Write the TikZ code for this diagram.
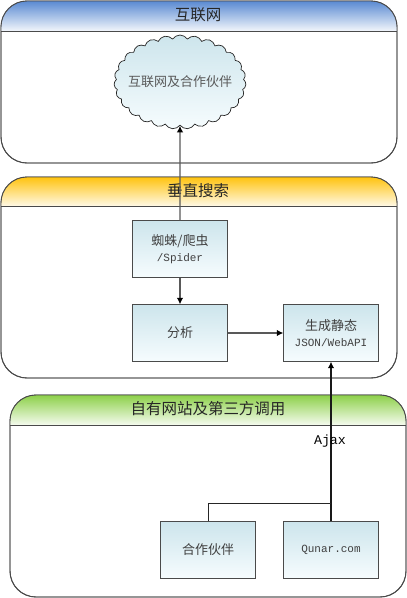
\documentclass[tikz,border=0pt]{standalone}
\usepackage{fontspec}
\setmainfont{Noto Sans CJK SC}
\newfontfamily\lat{Liberation Mono}
\usetikzlibrary{shapes.symbols,arrows.meta}
\definecolor{boxtop}{HTML}{CDE5EC}
\definecolor{boxbot}{HTML}{F6FCFE}
\definecolor{edge}{HTML}{4A4A4A}
\definecolor{HBlue}{HTML}{5A8AD2}
\definecolor{HBlueB}{HTML}{F2F6FB}
\definecolor{HYel}{HTML}{FFC30F}
\definecolor{HYelB}{HTML}{FFF9E6}
\definecolor{HGrn}{HTML}{8DD04A}
\definecolor{HGrnB}{HTML}{F5FBEF}
\tikzset{
  panel/.style={draw=edge,line width=0.9pt,fill=white,rounded corners=26pt},
  headrule/.style={draw=edge,line width=1pt},
  title/.style={font=\fontsize{15.5}{17}\selectfont,text=black!85,inner sep=0pt},
  card/.style={draw=edge,line width=1pt,minimum width=94.3pt,minimum height=56.3pt,inner sep=0pt,
    top color=boxtop,bottom color=boxbot,align=center,text=black!75,
    font=\fontsize{13}{16.5}\selectfont},
  puffy/.style={cloud,cloud puffs=27,cloud puff arc=115,aspect=1.4,draw=black!85,line width=0.7pt,
    minimum width=132pt,minimum height=94pt,inner sep=0pt,top color=boxtop,bottom color=boxbot,
    text=black!65,font=\fontsize{13}{15}\selectfont},
  link/.style={draw=black!65,line width=1.3pt,-{Latex[length=6.5pt,width=6.5pt,color=black]}},
  darklink/.style={draw=black!85,line width=1pt},
}
\begin{document}
\begin{tikzpicture}[x=1pt,y=-1pt]
\useasboundingbox (0,0) rectangle (407,598);
% panels
\path[panel] (1,1) rectangle (397,163);
\begin{scope}
\clip[rounded corners=26pt] (1,1) rectangle (397,163);
\shade[top color=HBlue,bottom color=HBlueB] (1,1) rectangle (397,31);
\end{scope}
\path[panel,fill=none] (1,1) rectangle (397,163);
\draw[headrule] (1,31) -- (397,31);
\node[title] (t1) at (198,15) {互联网};

\path[panel] (1,177) rectangle (397,378);
\begin{scope}
\clip[rounded corners=26pt] (1,177) rectangle (397,378);
\shade[top color=HYel,bottom color=HYelB] (1,177) rectangle (397,206);
\end{scope}
\path[panel,fill=none] (1,177) rectangle (397,378);
\draw[headrule] (1,206) -- (397,206);
\node[title] (t2) at (198,191) {垂直搜索};

\path[panel] (10,395) rectangle (406,597);
\begin{scope}
\clip[rounded corners=26pt] (10,395) rectangle (406,597);
\shade[top color=HGrn,bottom color=HGrnB] (10,395) rectangle (406,425);
\end{scope}
\path[panel,fill=none] (10,395) rectangle (406,597);
\draw[headrule] (10,425) -- (406,425);
\node[title] (t3) at (208,409) {自有网站及第三方调用};

% nodes
\node[puffy] (net) at (180,82) {\makebox[30pt][c]{互联网及合作伙伴}};
\node[card] (spider) at (180,249) {蜘蛛/爬虫\\{\lat\fontsize{11}{13}\selectfont /Spider}};
\node[card] (parse) at (180,333) {分析};
\node[card] (gen) at (331,333) {生成静态\\{\lat\fontsize{11}{13}\selectfont JSON/WebAPI}};
\node[card] (partner) at (208,550) {合作伙伴};
\node[card] (qunar) at (331,550) {{\lat\fontsize{11}{13}\selectfont Qunar.com}};
\coordinate (join) at (331,503.5);

% connectors
\draw[link] (spider.north) -- (net.south);
\draw[link] (spider.south) -- (parse.north);
\draw[link] (parse.east) -- (gen.west);
\draw[link,draw=black!90] (qunar.north) -- (gen.south);
\draw[darklink] (partner.north) |- (join);
\node[inner sep=0pt,text=black,font=\lat\fontsize{13.3}{15}\selectfont] (ajax) at (330,441) {Ajax};
\end{tikzpicture}
\end{document}
